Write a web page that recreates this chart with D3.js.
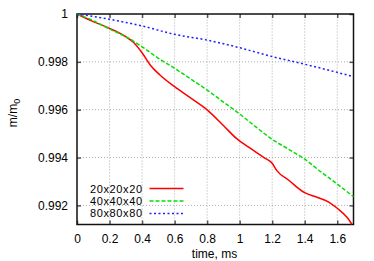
<!DOCTYPE html>
<meta charset="utf-8">
<script src="https://d3js.org/d3.v7.min.js"></script>
<style>
  body { margin: 0; background: #fff; }
  svg { font-family: "Liberation Sans", Arial, sans-serif; font-size: 12px; }
</style>
<svg id="chart" width="374" height="261"></svg>
<script>
// series: mass ratio vs time (ms)
var t20 = [0, 0.1, 0.2, 0.3, 0.35, 0.4, 0.45, 0.51, 0.6, 0.7, 0.8, 0.9, 0.98, 1.065, 1.15, 1.2, 1.23, 1.3, 1.4, 1.475, 1.545, 1.6, 1.66, 1.69];
var m20 = [1, 0.99968, 0.9994, 0.99905, 0.9988, 0.99838, 0.99787, 0.99745, 0.99696, 0.99648, 0.99599, 0.99534, 0.9948, 0.99439, 0.994, 0.99376, 0.99344, 0.99306, 0.99253, 0.99234, 0.99215, 0.99188, 0.9915, 0.99121];

var t40 = [0, 0.1, 0.2, 0.3, 0.4, 0.5, 0.6, 0.7, 0.8, 0.9, 1.0, 1.1, 1.2, 1.3, 1.4, 1.5, 1.6, 1.7];
var m40 = [1, 0.99972, 0.99937, 0.99905, 0.99863, 0.99815, 0.99773, 0.99728, 0.99682, 0.99632, 0.99582, 0.99528, 0.99476, 0.99435, 0.99393, 0.9934, 0.99289, 0.99236];

var t80 = [0, 0.1, 0.2, 0.4, 0.6, 0.8, 1.0, 1.2, 1.4, 1.6, 1.7];
var m80 = [1, 0.9999, 0.99978, 0.9995, 0.99915, 0.99891, 0.99859, 0.99822, 0.9979, 0.99756, 0.99738];

var labels = ["20x20x20", "40x40x40", "80x80x80"];
var xTicks = [0, 0.2, 0.4, 0.6, 0.8, 1, 1.2, 1.4, 1.6];
var yTicks = [0.992, 0.994, 0.996, 0.998, 1];

var svg = d3.select("#chart");
var margin = {left: 77, right: 20.5, top: 14, bottom: 36.5};
var W = 374, H = 261;

var x = d3.scaleLinear().domain([0, 1.7]).range([margin.left, W - margin.right]);
var y = d3.scaleLinear().domain([0.9912, 1]).range([H - margin.bottom, margin.top]);

// grid
svg.append("g").selectAll("line").data(xTicks.slice(1))
  .join("line")
  .attr("x1", d => x(d)).attr("x2", d => x(d))
  .attr("y1", y.range()[0]).attr("y2", y.range()[1])
  .attr("stroke", "#999").attr("stroke-width", 0.8).attr("stroke-dasharray", "1,2");
svg.append("g").selectAll("line").data(yTicks.slice(0, -1))
  .join("line")
  .attr("x1", x.range()[0]).attr("x2", x.range()[1])
  .attr("y1", d => y(d)).attr("y2", d => y(d))
  .attr("stroke", "#999").attr("stroke-width", 0.8).attr("stroke-dasharray", "1,2");

// axes (ticks inward, mirrored)
var fmt = d => d3.format("")(+d.toFixed(3));
var xb = svg.append("g").attr("transform", "translate(0," + y.range()[0] + ")")
  .call(d3.axisBottom(x).tickValues(xTicks).tickSize(-4).tickPadding(10).tickFormat(fmt));
var xt = svg.append("g").attr("transform", "translate(0," + margin.top + ")")
  .call(d3.axisTop(x).tickValues(xTicks).tickSize(-4).tickFormat(""));
var yl = svg.append("g").attr("transform", "translate(" + margin.left + ",0)")
  .call(d3.axisLeft(y).tickValues(yTicks).tickSize(-4).tickPadding(9).tickFormat(fmt));
var yr = svg.append("g").attr("transform", "translate(" + x.range()[1] + ",0)")
  .call(d3.axisRight(y).tickValues(yTicks).tickSize(-4).tickFormat(""));
[xb, xt, yl, yr].forEach(function(g) {
  g.select(".domain").remove();
  g.selectAll(".tick line").attr("stroke", "#555").attr("stroke-width", 1.5);
  g.selectAll("text").attr("font-size", 12).attr("font-family", "Liberation Sans, Arial, sans-serif").attr("fill", "#000");
});

// border
svg.append("rect")
  .attr("x", x.range()[0]).attr("y", margin.top)
  .attr("width", x.range()[1] - x.range()[0]).attr("height", y.range()[0] - margin.top)
  .attr("fill", "none").attr("stroke", "#111").attr("stroke-width", 1.5);

// lines
var series = [
  {t: t20, m: m20, color: "#ff0000", dash: null},
  {t: t40, m: m40, color: "#00e000", dash: "4,2"},
  {t: t80, m: m80, color: "#2020ff", dash: "2,2.5"}
];
var line = d3.line().curve(d3.curveMonotoneX).x(d => x(d[0])).y(d => y(d[1]));
series.forEach(function(s) {
  svg.append("path")
    .datum(d3.zip(s.t, s.m))
    .attr("d", line)
    .attr("fill", "none")
    .attr("stroke", s.color)
    .attr("stroke-width", 1.5)
    .attr("stroke-dasharray", s.dash);
});

// legend
var lg = svg.append("g");
labels.forEach(function(l, i) {
  var yy = 188.6 + i * 12.4;
  lg.append("text").attr("x", 142).attr("y", yy + 4).attr("text-anchor", "end")
    .attr("font-size", 11).attr("textLength", 52).text(l);
  lg.append("line").attr("x1", 149.5).attr("x2", 183.5).attr("y1", yy).attr("y2", yy)
    .attr("stroke", series[i].color).attr("stroke-width", 1.5)
    .attr("stroke-dasharray", series[i].dash);
});

// axis titles
svg.append("text").attr("x", 214.5).attr("y", 258).attr("text-anchor", "middle").text("time, ms");
var yt = svg.append("text").attr("transform", "translate(17,113) rotate(-90)").attr("text-anchor", "middle");
yt.append("tspan").text("m/m");
yt.append("tspan").attr("font-size", 9).attr("dy", 3).text("0");
</script>
